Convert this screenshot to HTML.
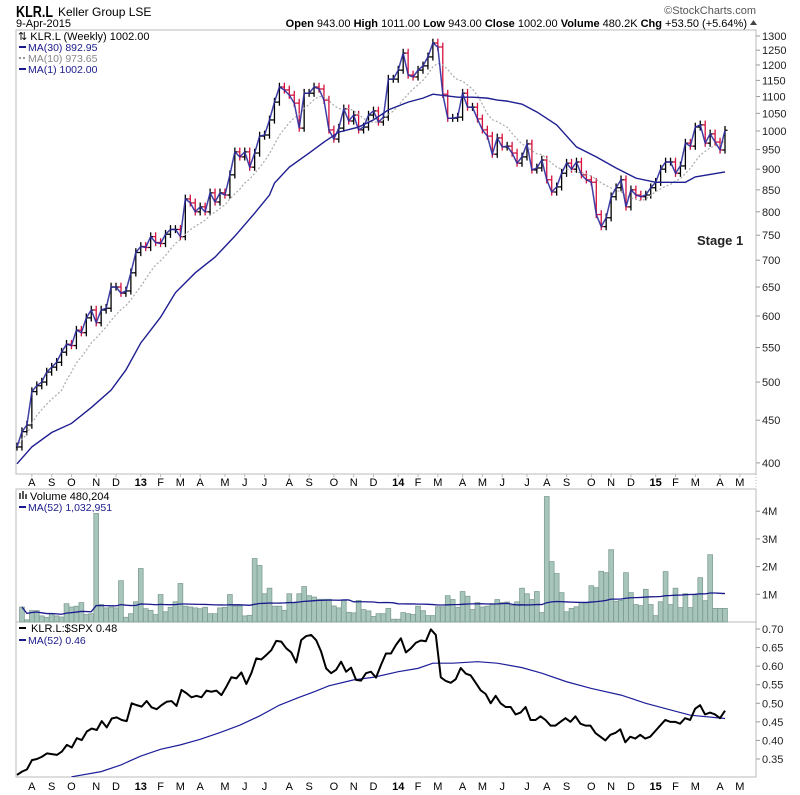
<!DOCTYPE html>
<html><head><meta charset="utf-8">
<style>
body{margin:0;background:#fff;}
svg{display:block;font-family:"Liberation Sans",Arial,sans-serif;}
</style></head>
<body>
<svg id="c" width="800" height="795" viewBox="0 0 800 795" xmlns="http://www.w3.org/2000/svg">
<rect width="800" height="795" fill="#fff"/>
<text x="16" y="17" font-size="16" font-weight="bold" fill="#000" textLength="37" lengthAdjust="spacingAndGlyphs">KLR.L</text>
<text x="58" y="16" font-size="12" fill="#000">Keller Group LSE</text>
<text x="16" y="27" font-size="11" fill="#000">9-Apr-2015</text>
<text x="756" y="14" font-size="11" fill="#555" text-anchor="end">©StockCharts.com</text>
<text x="747" y="27" font-size="11" fill="#000" text-anchor="end"><tspan font-weight="bold">Open</tspan> 943.00 <tspan font-weight="bold">High</tspan> 1011.00 <tspan font-weight="bold">Low</tspan> 943.00 <tspan font-weight="bold">Close</tspan> 1002.00 <tspan font-weight="bold">Volume</tspan> 480.2K <tspan font-weight="bold">Chg</tspan> +53.50 (+5.64%)</text>
<polygon points="750,25 757,25 753.5,20" fill="#444"/>

<rect x="16" y="30" width="740" height="444" fill="none" stroke="#bbb"/>
<rect x="16" y="489" width="740" height="133" fill="none" stroke="#bbb"/>
<rect x="16" y="622" width="740" height="155" fill="none" stroke="#bbb"/>
<g id="g"></g>

<text x="18" y="40" font-size="11" fill="#000">⇅ KLR.L (Weekly) 1002.00</text>
<line x1="19" y1="47" x2="26" y2="47" stroke="#1a1a8c" stroke-width="2"/>
<text x="28" y="51" font-size="10.5" fill="#1a1a8c">MA(30) 892.95</text>
<line x1="19" y1="58" x2="26" y2="58" stroke="#999" stroke-width="2" stroke-dasharray="2,2"/>
<text x="28" y="62" font-size="10.5" fill="#888">MA(10) 973.65</text>
<line x1="19" y1="69" x2="26" y2="69" stroke="#1a1a8c" stroke-width="2"/>
<text x="28" y="73" font-size="10.5" fill="#1a1a8c">MA(1) 1002.00</text>
<text x="697" y="245" font-size="13" font-weight="bold" fill="#222">Stage 1</text>

<text x="30" y="500" font-size="11" fill="#000">Volume 480,204</text>
<rect x="19" y="493" width="2" height="6" fill="#555"/><rect x="22" y="491" width="2" height="8" fill="#555"/><rect x="25" y="494" width="2" height="5" fill="#555"/>
<line x1="19" y1="507" x2="26" y2="507" stroke="#1a1a8c" stroke-width="2"/>
<text x="28" y="511" font-size="10.5" fill="#1a1a8c">MA(52) 1,032,951</text>

<line x1="19" y1="628" x2="26" y2="628" stroke="#000" stroke-width="2"/>
<text x="31" y="632" font-size="11" fill="#000">KLR.L:$SPX 0.48</text>
<line x1="19" y1="640" x2="26" y2="640" stroke="#1a1a8c" stroke-width="2"/>
<text x="28" y="644" font-size="10.5" fill="#1a1a8c">MA(52) 0.46</text>
</svg>
<script>
const closes=[418,436,444,487,495,500,514,521,528,543,555,553,577,573,597,610,589,610,613,650,650,639,643,676,715,727,725,747,735,733,752,762,762,747,829,820,800,811,800,843,822,843,838,886,944,931,944,905,941,986,989,1031,1083,
1129,1120,1104,1080,1008,1110,1110,1129,1123,1089,1003,978,1008,1063,1028,1045,1003,1011,1045,1057,1025,1039,1154,1154,1183,1240,1167,1161,1183,1197,1227,1275,1261,1107,1036,1036,1039,1110,1068,1068,1034,1003,986,938,981,957,959,941,
915,931,965,898,903,923,874,845,857,890,915,900,918,886,874,868,794,768,787,834,855,874,811,850,838,834,838,855,868,900,918,918,890,908,967,959,1011,1017,967,992,970,949,1002];
const ma30Weeks=[0,3,7,11,15,19,22,25,29,32,36,40,44,48,51,52,55,59,62,65,69,72,75,79,82,84,89,92,95,97,99,102,105,109,113,117,121,125,129,135,137,143];
const ma30Values=[399,418,435,446,466,489,517,557,598,640,676,706,748,797,838,866,905,941,970,997,1011,1031,1060,1083,1095,1107,1098,1098,1095,1089,1086,1077,1054,1017,957,931,903,878,868,868,881,893];
const volumes=[0.54,0.08,0.41,0.41,0.22,0.17,0.30,0.22,0.18,0.66,0.54,0.57,0.70,0.27,0.30,3.92,0.63,0.51,0.54,0.51,1.49,0.17,0.30,0.73,1.93,0.48,0.42,0.27,0.99,0.37,0.53,0.73,1.39,0.57,0.54,0.51,0.48,0.53,0.30,0.30,0.51,0.53,0.99,0.58,0.58,0.22,0.24,2.29,2.04,1.02,1.22,0.57,0.57,0.42,1.02,0.69,1.02,1.28,0.95,0.90,0.82,0.82,0.82,0.58,0.51,0.78,0.35,0.33,0.78,0.45,0.40,0.20,0.30,0.30,0.49,0.10,0.10,0.34,
0.30,0.27,0.57,0.41,0.23,0.23,0.55,0.55,0.95,0.81,0.53,1.10,0.93,0.45,0.70,0.54,0.57,0.66,0.81,0.70,0.72,0.60,0.73,1.22,1.02,0.81,1.10,0.34,4.53,2.18,1.75,1.06,0.37,0.49,0.55,0.69,0.69,1.31,1.24,1.83,1.78,2.61,0.75,0.78,1.78,1.06,0.63,0.59,1.18,0.63,0.23,0.73,1.82,0.63,1.22,0.52,1.02,0.52,0.98,1.60,0.77,2.43,0.49,0.49,0.49];
const ratio=[0.307,0.316,0.322,0.347,0.350,0.356,0.365,0.363,0.361,0.370,0.388,0.381,0.406,0.401,0.424,0.432,0.428,0.452,0.435,0.459,0.462,0.455,0.452,0.500,0.495,0.491,0.506,0.489,0.484,0.495,0.504,0.506,0.493,0.536,0.527,0.516,0.520,0.516,0.534,0.531,0.534,0.522,0.545,0.570,0.567,0.583,0.552,0.581,0.621,0.618,0.630,0.643,0.668,0.666,0.648,0.637,0.610,0.670,0.681,0.684,0.670,0.639,0.594,0.581,0.590,0.612,0.585,0.596,0.563,0.561,0.581,0.585,0.569,0.603,0.634,0.634,0.657,0.675,
0.637,0.648,0.663,0.669,0.667,0.699,0.684,0.57,0.56,0.555,0.565,0.595,0.58,0.575,0.555,0.535,0.525,0.50,0.52,0.50,0.49,0.49,0.47,0.475,0.49,0.455,0.455,0.465,0.455,0.44,0.44,0.45,0.46,0.45,0.465,0.445,0.44,0.44,0.42,0.41,0.40,0.415,0.42,0.43,0.395,0.41,0.405,0.415,0.405,0.41,0.425,0.44,0.455,0.45,0.45,0.445,0.46,0.455,0.485,0.495,0.47,0.475,0.47,0.46,0.48];
const ratioMaWeeks=[11,17,21,25,29,33,37,41,45,49,53,57,60,63,68,72,77,81,84,88,93,97,102,106,111,116,122,127,132,136,143];
const ratioMaValues=[0.302,0.316,0.334,0.358,0.376,0.388,0.403,0.421,0.441,0.466,0.495,0.516,0.531,0.547,0.563,0.570,0.585,0.594,0.608,0.608,0.612,0.608,0.596,0.581,0.558,0.540,0.522,0.500,0.482,0.468,0.459];
const priceTicks=[400,450,500,550,600,650,700,750,800,850,900,950,1000,1050,1100,1150,1200,1250,1300];
const volTicks=[1,2,3,4];
const ratioTicks=[0.35,0.40,0.45,0.50,0.55,0.60,0.65,0.70];
const monthLabels=["A","S","O","N","D","13","F","M","A","M","J","J","A","S","O","N","D","14","F","M","A","M","J","J","A","S","O","N","D","15","F","M","A","M"];
const monthWeeks=[3,7,11,16,20,25,29,33,37,42,46,50,55,59,64,68,72,77,81,85,90,94,98,103,107,111,116,120,124,129,133,137,142,146];

const NS="http://www.w3.org/2000/svg";
const g=document.getElementById('g');
function mk(t,a,p){const e=document.createElementNS(NS,t);for(const k in a)e.setAttribute(k,a[k]);(p||g).appendChild(e);return e;}
const X0=17,STEP=708/(closes.length-1);
const xw=w=>X0+w*STEP;
const xs=(i,n)=>X0+i*708/(n-1);
const yP=p=>131-834*Math.log10(p/1000);
const yV=v=>622-v*27.7;
const yR=v=>629+(0.70-v)*371.4;

const defs=mk('defs',{});
const cp=mk('clipPath',{id:'cp'},defs);mk('rect',{x:16,y:30,width:740,height:444},cp);
const cr=mk('clipPath',{id:'cr'},defs);mk('rect',{x:16,y:622,width:740,height:155},cr);

priceTicks.forEach(t=>{
 const y=yP(t);
 mk('line',{x1:756,y1:y,x2:760,y2:y,stroke:'#999'});
 const tx=mk('text',{x:762,y:y+4,'font-size':11,fill:'#222'});tx.textContent=t;
 
 
});
volTicks.forEach(t=>{
 const y=yV(t);
 mk('line',{x1:756,y1:y,x2:760,y2:y,stroke:'#999'});
 const tx=mk('text',{x:762,y:y+4,'font-size':11,fill:'#222'});tx.textContent=t+'M';
 
 
});
ratioTicks.forEach(t=>{
 const y=yR(t);
 mk('line',{x1:756,y1:y,x2:760,y2:y,stroke:'#999'});
 const tx=mk('text',{x:762,y:y+4,'font-size':11,fill:'#222'});tx.textContent=t.toFixed(2);
 
 
});
mk('line',{x1:756,y1:30,x2:756,y2:777,stroke:'#bbb','stroke-dasharray':'1,2'});
monthLabels.forEach((m,i)=>{
 const x=xw(monthWeeks[i]);
 [486,790].forEach(y=>{
  const tx=mk('text',{x:x,y:y,'font-size':11,'text-anchor':'middle',fill:'#000','font-weight':/\d/.test(m)?'bold':'normal'});
  tx.textContent=m;
  
  
 });
 mk('line',{x1:x,y1:474,x2:x,y2:477,stroke:'#bbb'});
});

const pg=mk('g',{'clip-path':'url(#cp)'});
closes.forEach((c,i)=>{
 const o=i>0?closes[i-1]:c;
 const x=xw(i);
 const hi=Math.max(o,c)*1.012,lo=Math.min(o,c)*0.99;
 const col=c<o?'#d4103c':'#000';
 const b=mk('g',{stroke:col,'stroke-width':1.3},pg);
 
 
 mk('line',{x1:x,y1:yP(hi),x2:x,y2:yP(lo)},b);
 mk('line',{x1:x-2.5,y1:yP(o),x2:x,y2:yP(o)},b);
 mk('line',{x1:x,y1:yP(c),x2:x+2.5,y2:yP(c)},b);
});
const ma10=closes.map((c,i)=>{const s=closes.slice(Math.max(0,i-9),i+1);return s.reduce((a,b)=>a+b,0)/s.length;});
const m10=mk('polyline',{points:ma10.map((v,i)=>xw(i)+','+yP(v)).join(' '),fill:'none',stroke:'#aaa','stroke-width':1.2,'stroke-dasharray':'2,2'},pg);


const m30=mk('polyline',{points:ma30Values.map((v,i)=>xw(ma30Weeks[i])+','+yP(v)).join(' '),fill:'none',stroke:'#1e1e90','stroke-width':1.4},pg);


const m1=mk('polyline',{points:closes.map((v,i)=>xw(i)+','+yP(v)).join(' '),fill:'none',stroke:'#2a2a9c','stroke-width':1.5,'stroke-opacity':0.9},pg);



const off=closes.length-volumes.length;
volumes.forEach((v,j)=>{
 const x=xw(j+off);
 const r=mk('rect',{x:x-2.4,y:yV(v),width:4.8,height:622-yV(v),fill:'#a7c5bb',stroke:'#7f9e94','stroke-width':0.8});
 
 
});
const vma=volumes.map((v,i)=>{const s=volumes.slice(Math.max(0,i-51),i+1);return s.reduce((a,b)=>a+b,0)/s.length;});
const vm=mk('polyline',{points:vma.map((v,j)=>xw(j+off)+','+yV(v)).join(' '),fill:'none',stroke:'#1a1a8c','stroke-width':1.3});



const rg=mk('g',{'clip-path':'url(#cr)'});
const rm=mk('polyline',{points:ratioMaValues.map((v,i)=>xw(ratioMaWeeks[i])+','+yR(v)).join(' '),fill:'none',stroke:'#1e1e9a','stroke-width':1.2},rg);


const rl=mk('polyline',{points:ratio.map((v,i)=>xs(i,ratio.length)+','+yR(v)).join(' '),fill:'none',stroke:'#000','stroke-width':2,'stroke-linejoin':'round'},rg);


</script>
</body></html>
